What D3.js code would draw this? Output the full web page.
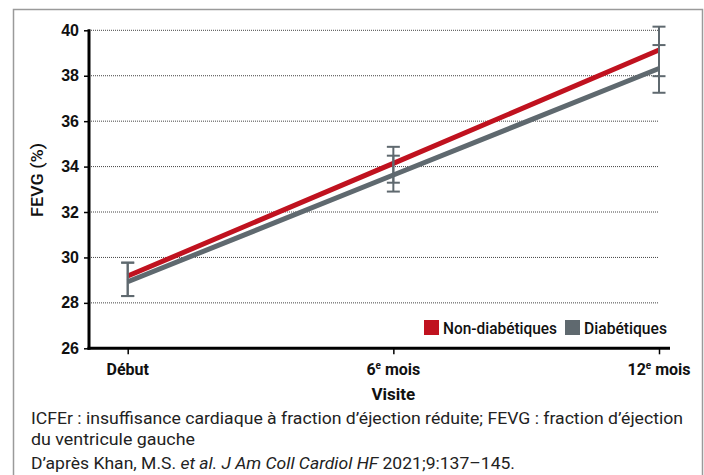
<!DOCTYPE html>
<html>
<head>
<meta charset="utf-8">
<script src="https://cdn.jsdelivr.net/npm/d3@7"></script>
<style>
  html, body { margin: 0; padding: 0; background: #fff; }
  svg { display: block; font-family: Roboto, "DejaVu Sans", sans-serif; }
</style>
</head>
<body>
<svg id="chart" width="704" height="475"></svg>
<script>
// Data
const visits = ['Début', '6e mois', '12e mois'];
const yTicks = [26, 28, 30, 32, 34, 36, 38, 40];

const nonDiabetic = [29.18, 34.14, 39.13];
const nonDiabeticLow = [28.3, 33.29, 37.98];
const nonDiabeticHigh = [29.77, 34.87, 40.16];

const diabetic = [28.93, 33.63, 38.32];
const diabeticLow = [28.3, 32.9, 37.25];
const diabeticHigh = [29.77, 34.48, 39.35];

const seriesNames = ['Non-diabétiques', 'Diabétiques'];
const colors = ['#c0121f', '#5f696f'];

const svg = d3.select('#chart');

// outer frame
svg.append('rect')
    .attr('x', 13.5).attr('y', 9.5)
    .attr('width', 689).attr('height', 480)
    .attr('fill', 'none')
    .attr('stroke', '#9a9a9a')
    .attr('stroke-width', 1.5);

const plotLeft = 89, plotTop = 30.3, plotBottom = 348.3;

const x = d3.scalePoint()
    .domain(visits)
    .range([127.7, 659]);

const y = d3.scaleLinear()
    .domain([26, 40])
    .range([plotBottom, plotTop]);

// gridlines
svg.append('g')
    .selectAll('line')
    .data(yTicks.filter(t => t > 26))
    .join('line')
    .attr('x1', plotLeft).attr('x2', x('12e mois'))
    .attr('y1', d => y(d)).attr('y2', d => y(d))
    .attr('stroke', '#444')
    .attr('stroke-width', 1)
    .attr('stroke-dasharray', '1,1');

// lines
const line = d3.line()
    .x((d, i) => x(visits[i]))
    .y(d => y(d));

const series = [
    { values: diabetic, low: diabeticLow, high: diabeticHigh, color: colors[1] },
    { values: nonDiabetic, low: nonDiabeticLow, high: nonDiabeticHigh, color: colors[0] }
];

series.forEach(s => {
    svg.append('path')
        .datum(s.values)
        .attr('d', line)
        .attr('fill', 'none')
        .attr('stroke', s.color)
        .attr('stroke-width', 5);
});

// error bars
const errG = svg.append('g')
    .attr('stroke', '#5f696f')
    .attr('stroke-width', 2);
series.forEach(s => {
    visits.forEach((v, i) => {
        const cx = x(v);
        errG.append('line')
            .attr('x1', cx).attr('x2', cx)
            .attr('y1', y(s.low[i])).attr('y2', y(s.high[i]));
        [s.low[i], s.high[i]].forEach(val => {
            errG.append('line')
                .attr('x1', cx - 6.5).attr('x2', cx + 6.5)
                .attr('y1', y(val)).attr('y2', y(val));
        });
    });
});

// y axis
const yAxis = svg.append('g')
    .attr('transform', `translate(${plotLeft},0)`)
    .call(d3.axisLeft(y).tickValues(yTicks).tickSize(5).tickPadding(5));
yAxis.select('.domain').attr('stroke', '#000').attr('stroke-width', 3)
    .attr('d', `M0,${plotTop - 1}V${plotBottom + 1.5}`);
yAxis.selectAll('.tick line').attr('stroke', '#000').attr('stroke-width', 1.5);
yAxis.selectAll('.tick text')
    .attr('fill', '#111')
    .style('font-size', '16px')
    .style('font-weight', 700);

// x axis
const xAxis = svg.append('g')
    .attr('transform', `translate(0,${plotBottom})`)
    .call(d3.axisBottom(x).tickSize(6).tickFormat(''));
xAxis.select('.domain').attr('stroke', '#000').attr('stroke-width', 3)
    .attr('d', `M${plotLeft - 1.5},0H670`);
xAxis.selectAll('.tick line').attr('stroke', '#000').attr('stroke-width', 1.5);

// x tick labels with superscript
visits.forEach(v => {
    const t = svg.append('text')
        .attr('x', x(v)).attr('y', 375)
        .attr('text-anchor', 'middle')
        .attr('fill', '#111')
        .style('font-size', '16px')
        .style('font-weight', 700);
    const m = v.match(/^(\d+)e (.*)$/);
    if (m) {
        t.append('tspan').text(m[1]);
        t.append('tspan').attr('dy', -6).style('font-size', '10px').text('e');
        t.append('tspan').attr('dy', 6).text(' ' + m[2]);
    } else {
        t.text(v);
    }
});

// axis titles
svg.append('text')
    .attr('x', x('6e mois')).attr('y', 400)
    .attr('text-anchor', 'middle')
    .attr('fill', '#111')
    .style('font-size', '17px')
    .style('font-weight', 700)
    .text('Visite');

svg.append('text')
    .attr('transform', 'translate(43,180) rotate(-90)')
    .attr('text-anchor', 'middle')
    .attr('fill', '#111')
    .style('font-size', '17px')
    .style('font-weight', 500)
    .attr('textLength', 74).attr('lengthAdjust', 'spacingAndGlyphs')
    .text('FEVG (%)');

// legend
const legend = svg.append('g');
const legendX = [424, 565];
const legendW = [114, 83];
seriesNames.forEach((name, i) => {
    legend.append('rect')
        .attr('x', legendX[i]).attr('y', 320)
        .attr('width', 15).attr('height', 15)
        .attr('fill', colors[i]);
    legend.append('text')
        .attr('x', legendX[i] + 19).attr('y', 334)
        .attr('fill', '#111')
        .style('font-size', '16px')
        .style('font-weight', 500)
        .attr('textLength', legendW[i]).attr('lengthAdjust', 'spacingAndGlyphs')
        .text(name);
});

// caption
const cap = svg.append('g')
    .attr('fill', '#222')
    .style('font-size', '16.5px');
cap.append('text').attr('x', 31).attr('y', 424)
    .attr('textLength', 652).attr('lengthAdjust', 'spacingAndGlyphs')
    .text('ICFEr : insuffisance cardiaque à fraction d’éjection réduite; FEVG : fraction d’éjection');
cap.append('text').attr('x', 31).attr('y', 445)
    .attr('textLength', 164).attr('lengthAdjust', 'spacingAndGlyphs')
    .text('du ventricule gauche');
const src = cap.append('text').attr('x', 31).attr('y', 469)
    .attr('textLength', 484).attr('lengthAdjust', 'spacingAndGlyphs');
src.append('tspan').text('D’après Khan, M.S. ');
src.append('tspan').style('font-style', 'italic').text('et al. J Am Coll Cardiol HF');
src.append('tspan').text(' 2021;9:137–145.');
</script>
</body>
</html>
